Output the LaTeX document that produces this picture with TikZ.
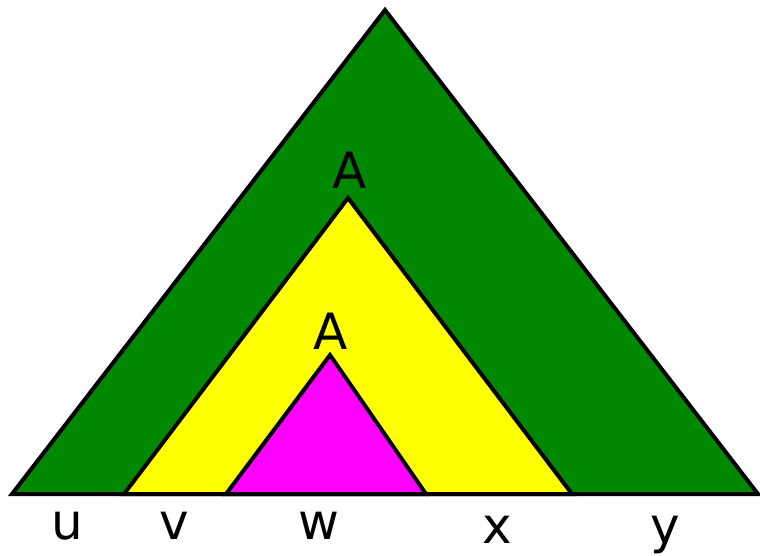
\documentclass[tikz,border=0pt]{standalone}
\usepackage{fontspec}
\setmainfont{DejaVu Sans}
\definecolor{tgreen}{RGB}{0,136,0}
\definecolor{tyellow}{RGB}{255,255,0}
\definecolor{tmag}{RGB}{255,0,255}
\begin{document}
\begin{tikzpicture}[x=1pt,y=-1pt,
  tri/.style={draw=black,line width=4pt,line join=miter},
  lbl/.style={font=\fontsize{50}{50}\selectfont,inner sep=0pt,anchor=base}]
\useasboundingbox (0,0) rectangle (760,555);
\coordinate (gA) at (385,10);
\coordinate (gL) at (12,494);
\coordinate (gR) at (758,494);
\coordinate (yA) at (348,198);
\coordinate (yL) at (124,494);
\coordinate (yR) at (572,494);
\coordinate (mA) at (330,355);
\coordinate (mL) at (226,494);
\coordinate (mR) at (426,494);
\fill[tgreen] (gA) -- (gL) -- (gR) -- cycle;
\draw[tri,fill=tyellow] (yA) -- (yL) -- (yR) -- cycle;
\draw[tri,fill=tmag] (mA) -- (mL) -- (mR) -- cycle;
\draw[tri] (gA) -- (gL) -- (gR) -- cycle;
\node[lbl] (a1) at (350,188) {A};
\node[lbl] (a2) at (331,349) {A};
\node[lbl] (u) at (67,539) {u};
\node[lbl] (v) at (174,539) {v};
\node[lbl] (w) at (319,539) {w};
\node[lbl] (x) at (497,543) {x};
\node[lbl] (y) at (665,543) {y};
\end{tikzpicture}
\end{document}
